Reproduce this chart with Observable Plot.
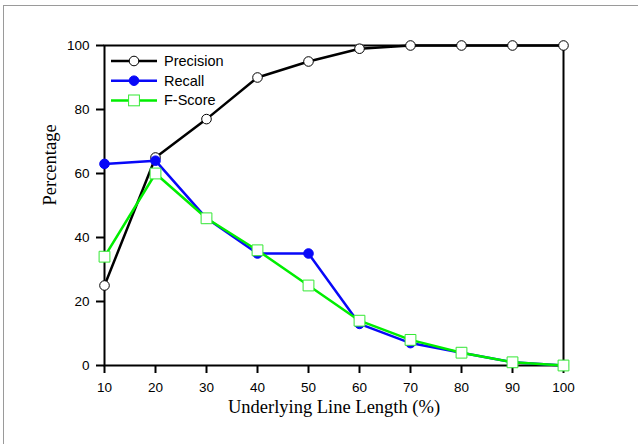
<!DOCTYPE html>
<html>
<head>
<meta charset="utf-8">
<script src="https://cdn.jsdelivr.net/npm/d3@7"></script>
<script src="https://cdn.jsdelivr.net/npm/@observablehq/plot@0.6"></script>
<style>
  html, body { margin: 0; padding: 0; background: #fff; }
  #wrap { position: relative; width: 638px; height: 444px; overflow: hidden; }
  #edge { position: absolute; left: 3px; top: 5px; width: 634px; height: 460px;
          border-top: 1px solid #9a9a9a; border-left: 1px solid #9a9a9a; pointer-events: none; }
  #chart { position: absolute; left: 0; top: 0; }
</style>
</head>
<body>
<div id="wrap"><div id="chart"></div><div id="edge"></div></div>
<script>
const lengths = [10, 20, 30, 40, 50, 60, 70, 80, 90, 100];
const precision = [25, 65, 77, 90, 95, 99, 100, 100, 100, 100];
const recall = [63, 64, 46, 35, 35, 13, 7, 4, 1, 0];
const fscore = [34, 60, 46, 36, 25, 14, 8, 4, 1, 0];
const xTicks = [10, 20, 30, 40, 50, 60, 70, 80, 90, 100];
const yTicks = [0, 20, 40, 60, 80, 100];
const seriesNames = ["Precision", "Recall", "F-Score"];

const BLUE = "#0808f8";
const GREEN = "#00ee00";
const SQ = "#33e833";

const P = lengths.map((x, i) => ({x, y: precision[i]}));
const R = lengths.map((x, i) => ({x, y: recall[i]}));
const F = lengths.map((x, i) => ({x, y: fscore[i]}));

const sans = "'Liberation Sans', Arial, Helvetica, sans-serif";
const serif = "'Liberation Serif', 'Times New Roman', serif";

const chart = Plot.plot({
  width: 638,
  height: 444,
  marginLeft: 104,
  marginRight: 75,
  marginTop: 45,
  marginBottom: 79,
  style: {fontFamily: sans, fontSize: "13.5px", color: "black", background: "white"},
  x: {domain: [10, 100]},
  y: {domain: [0, 100]},
  marks: [
    Plot.axisX({ticks: xTicks, tickSize: 8, tickPadding: 9, fontSize: 13.5, label: null, strokeWidth: 2, stroke: "black", fill: "black"}),
    Plot.axisY({ticks: yTicks, tickSize: 8, tickPadding: 7, fontSize: 13.5, label: null, strokeWidth: 2, stroke: "black", fill: "black"}),
    Plot.frame({stroke: "black", strokeWidth: 2}),
    Plot.text(["Underlying Line Length (%)"], {frameAnchor: "bottom", dy: 47, fontFamily: serif, fontSize: 18.5, fill: "black"}),
    Plot.text(["Percentage"], {frameAnchor: "left", dx: -54, rotate: -90, fontFamily: serif, fontSize: 18.5, fill: "black"}),
    Plot.line(P, {x: "x", y: "y", stroke: "black", strokeWidth: 2.5}),
    Plot.dot(P, {x: "x", y: "y", r: 4.8, fill: "white", stroke: "black", strokeWidth: 1}),
    Plot.line(R, {x: "x", y: "y", stroke: BLUE, strokeWidth: 2.5}),
    Plot.dot(R, {x: "x", y: "y", r: 4.8, fill: BLUE, stroke: BLUE, strokeWidth: 1}),
    Plot.line(F, {x: "x", y: "y", stroke: GREEN, strokeWidth: 2.5}),
    Plot.dot(F, {x: "x", y: "y", symbol: "square", r: 6.1, fill: "white", stroke: SQ, strokeWidth: 1})
  ]
});
document.getElementById("chart").appendChild(chart);

const svg = d3.select(chart);
svg.selectAll('g[aria-label$="tick label"]').attr("font-size", 13.5).selectAll("text").attr("font-size", 13.5);

// Legend
const leg = svg.append("g").attr("font-family", sans).attr("font-size", 14.5).attr("text-anchor", "start");
const styles = [
  {stroke: "black", marker: "circle", fill: "white", mstroke: "black"},
  {stroke: BLUE, marker: "circle", fill: BLUE, mstroke: BLUE},
  {stroke: GREEN, marker: "square", fill: "white", mstroke: SQ}
];
seriesNames.forEach((name, i) => {
  const y = 61 + i * 19.7;
  const s = styles[i];
  const g = leg.append("g").attr("transform", `translate(0,${y})`);
  g.append("line").attr("x1", 111).attr("x2", 157).attr("y1", 0).attr("y2", 0)
    .attr("stroke", s.stroke).attr("stroke-width", 2.5);
  if (s.marker === "circle") {
    g.append("circle").attr("cx", 134).attr("cy", 0).attr("r", 4.8)
      .attr("fill", s.fill).attr("stroke", s.mstroke).attr("stroke-width", 1);
  } else {
    g.append("rect").attr("x", 134 - 5.4).attr("y", -5.4).attr("width", 10.8).attr("height", 10.8)
      .attr("fill", s.fill).attr("stroke", s.mstroke).attr("stroke-width", 1);
  }
  g.append("text").attr("x", 164).attr("y", 0).attr("dy", "0.35em").attr("fill", "black").text(name);
});
</script>
</body>
</html>
